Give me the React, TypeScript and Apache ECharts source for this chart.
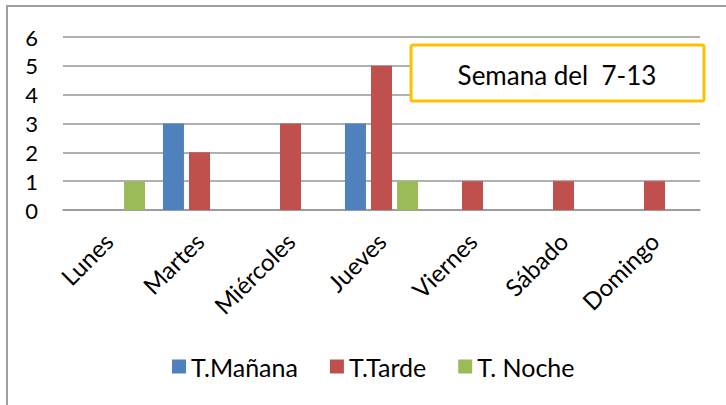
import React, { useEffect, useRef } from "react";
import * as echarts from "echarts";

const categories = ["Lunes", "Martes", "Miércoles", "Jueves", "Viernes", "Sábado", "Domingo"];
const manana = [0, 3, 0, 3, 0, 0, 0];
const tarde = [0, 2, 3, 5, 1, 1, 1];
const noche = [1, 0, 0, 1, 0, 0, 0];
const seriesNames = ["T.Mañana", "T.Tarde", "T. Noche"];
const boxText = "Semana del  7-13";

const FONT = "Lato, 'Open Sans', sans-serif";

export default function App() {
  const ref = useRef<HTMLDivElement>(null);
  useEffect(() => {
    if (!ref.current) return;
    const chart = echarts.init(ref.current, undefined, { renderer: "svg" });
    const mk = (name: string, data: number[], color: string) => ({
      name,
      type: "bar",
      data,
      barWidth: 21,
      barGap: "24%",
      itemStyle: { color },
    });
    chart.setOption({
      animation: false,
      backgroundColor: "#ffffff",
      textStyle: { fontFamily: FONT },
      grid: { left: 63, right: 26, top: 37, bottom: 195, containLabel: false },
      legend: {
        top: 354,
        left: 172,
        padding: 0,
        itemWidth: 14,
        itemHeight: 14,
        itemGap: 32,
        icon: "rect",
        textStyle: { fontSize: 25, color: "#000", fontFamily: FONT },
        data: seriesNames,
      },
      xAxis: {
        type: "category",
        data: categories,
        axisLine: { lineStyle: { color: "#969696", width: 1.5 } },
        axisTick: { show: false },
        axisLabel: { rotate: 45, fontSize: 24, color: "#000", margin: 27, interval: 0, fontFamily: FONT },
      },
      yAxis: {
        type: "value",
        min: 0,
        max: 6,
        interval: 1,
        axisLine: { show: false },
        axisTick: { show: false },
        axisLabel: { fontSize: 22, color: "#000", margin: 25, fontFamily: FONT },
        splitLine: { lineStyle: { color: "#969696", width: 1.5 } },
      },
      series: [
        mk(seriesNames[0], manana, "#4F81BD"),
        mk(seriesNames[1], tarde, "#C0504D"),
        mk(seriesNames[2], noche, "#9BBB59"),
      ],
      graphic: [
        {
          type: "rect",
          shape: { x: 7, y: 6, width: 740, height: 420 },
          style: { fill: "none", stroke: "#a0a0a0", lineWidth: 2 },
          silent: true,
          z: 0,
        },
        {
          type: "rect",
          shape: { x: 411, y: 45, width: 293, height: 56, r: 2 },
          style: { fill: "#ffffff", stroke: "#FFC000", lineWidth: 3 },
          z: 100,
        },
        {
          type: "text",
          x: 557,
          y: 75,
          style: {
            text: boxText,
            fontSize: 26,
            fontFamily: FONT,
            fill: "#000",
            align: "center",
            verticalAlign: "middle",
          },
          z: 101,
        },
      ],
    });
    return () => chart.dispose();
  }, []);
  return (
    <div
      ref={ref}
      style={{ position: "fixed", left: 0, top: 0, width: 726, height: 405, background: "#fff" }}
    />
  );
}
